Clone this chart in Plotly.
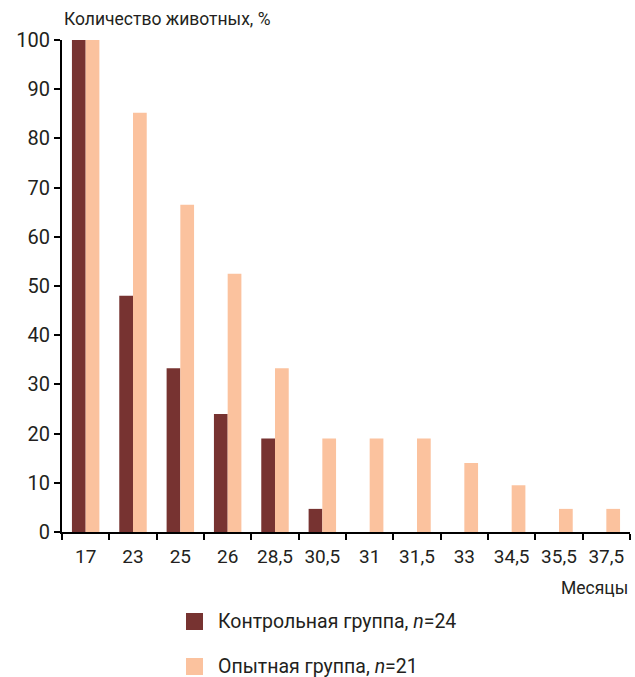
import plotly.graph_objects as go

# Months since start of observation
months = ["17", "23", "25", "26", "28,5", "30,5", "31", "31,5", "33", "34,5", "35,5", "37,5"]

# Share of surviving animals, %
control = [100, 48.0, 33.3, 24.0, 19.0, 4.7, 0, 0, 0, 0, 0, 0]
experimental = [100, 85.2, 66.5, 52.5, 33.3, 19.0, 19.0, 19.0, 14.0, 9.5, 4.7, 4.7]

control_name = "Контрольная группа, <i>n</i>=24"
experimental_name = "Опытная группа, <i>n</i>=21"

y_title = "Количество животных, %"
x_title = "Месяцы"

DARK = "#773331"
LIGHT = "#fbc29e"
TEXT = "#231f20"
FONT = "Roboto"

fig = go.Figure()
fig.add_bar(x=months, y=control, name=control_name, marker=dict(color=DARK, line=dict(width=0)))
fig.add_bar(x=months, y=experimental, name=experimental_name, marker=dict(color=LIGHT, line=dict(width=0)))

fig.update_layout(
    width=635, height=677,
    margin=dict(l=62, r=5, t=40, b=145, autoexpand=False),
    plot_bgcolor="white", paper_bgcolor="white",
    barmode="group", bargap=0.42, bargroupgap=0,
    showlegend=False,
    font=dict(family=FONT, color=TEXT, size=19),
)
fig.update_xaxes(
    type="category", tickson="boundaries", tickangle=0, automargin=False,
    ticks="outside", ticklen=6, tickwidth=2, tickcolor="black",
    showline=True, linecolor="black", linewidth=2,
    showgrid=False, tickfont=dict(size=19, color=TEXT),
    ticklabelstandoff=6,
)
fig.update_yaxes(
    range=[0, 100], dtick=10, automargin=False,
    ticks="outside", ticklen=6, tickwidth=2, tickcolor="black",
    showline=True, linecolor="black", linewidth=2,
    showgrid=False, zeroline=False, tickfont=dict(size=20, color=TEXT),
)

# Axis captions
fig.add_annotation(text=y_title, xref="paper", yref="paper", x=0, y=1, yshift=9,
                   xanchor="left", yanchor="bottom", showarrow=False,
                   font=dict(size=17.5, color=TEXT))
fig.add_annotation(text=x_title, xref="paper", yref="paper", x=1, y=0, yshift=-44,
                   xanchor="right", yanchor="top", showarrow=False,
                   font=dict(size=17.5, color=TEXT))

# Legend drawn below the plot
for i, (name, color) in enumerate([(control_name, DARK), (experimental_name, LIGHT)]):
    y0 = 613 + i * 45
    fig.add_shape(type="rect", xref="paper", yref="paper",
                  x0=(186 - 62) / 568, x1=(203 - 62) / 568,
                  y0=(677 - 145 - (y0 + 17)) / 492, y1=(677 - 145 - y0) / 492,
                  fillcolor=color, line=dict(width=0))
    fig.add_annotation(text=name, xref="paper", yref="paper",
                       x=(216 - 62) / 568, y=(677 - 145 - (y0 + 8.5)) / 492,
                       xanchor="left", yanchor="middle", showarrow=False,
                       font=dict(size=19.5, color=TEXT))

fig.write_html("out.html")
